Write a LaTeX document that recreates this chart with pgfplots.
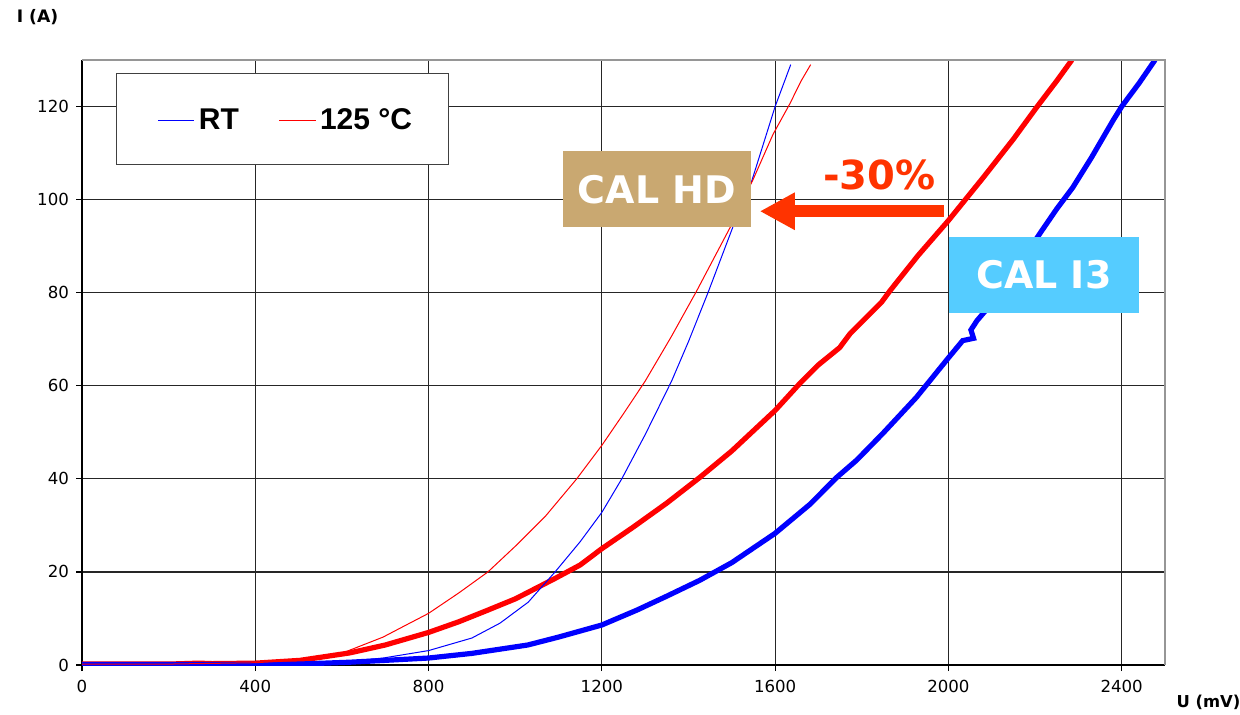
\documentclass[border=0pt]{standalone}
\usepackage{fontspec}
\setmainfont{DejaVu Sans}
\newfontfamily\arialfont{Liberation Sans}
\usepackage{pgfplots}
\pgfplotsset{compat=1.18}
\usetikzlibrary{arrows.meta}
\definecolor{calhd}{RGB}{201,168,113}
\definecolor{cali3}{RGB}{85,204,255}
\definecolor{arr}{RGB}{255,51,0}
\definecolor{framegray}{RGB}{150,150,150}

\begin{document}
\begin{tikzpicture}
\useasboundingbox (-41pt,-24.5pt) rectangle (579pt,332.5pt);
\begin{axis}[
  at={(0pt,0pt)}, anchor=south west,
  scale only axis, width=541.5pt, height=302.5pt,
  xmin=0, xmax=2500, ymin=0, ymax=130,
  xtick={0,400,...,2400}, ytick={0,20,...,120},
  axis lines*=left, axis line style={black, line width=0.6pt, -},
  grid=major, grid style={black!85, line width=0.6pt},
  tick align=outside, major tick length=3pt, tick style={black, line width=0.6pt},
  ticklabel style={font=\fontsize{8.3}{10}\selectfont},
  xticklabel style={yshift=-1pt},
  /pgf/number format/assume math mode=true,
  /pgf/number format/1000 sep={},
  legend columns=2,
  legend image post style={xscale=1.058},
  legend style={at={(0.1874,0.9000)}, anchor=center, draw=none, fill=none,
    font=\arialfont\bfseries\fontsize{15}{18}\selectfont,
    nodes={inner sep=0pt},
    /tikz/every odd column/.append style={column sep=2pt},
    /tikz/every even column/.append style={column sep=20pt}},
]
% thick: CAL I3, 125 C
\addplot[red, line width=2.6pt, forget plot] coordinates {
(0,0.2) (100,0.2) (200,0.2) (270,0.4) (300,0.3) (400,0.4) (503,1.0) (618,2.6) (700,4.3)
(800,7) (870,9.3) (937,11.8) (1000,14.2) (1092,18.6) (1150,21.5) (1200,25) (1272,29.6)
(1350,34.8) (1426,40.3) (1500,46) (1600,54.7) (1657,60.5) (1700,64.5) (1749,68.2)
(1773,71.2) (1846,78) (1865,80.4) (1930,88) (2000,95.5) (2080,104.7) (2150,113)
(2205,120) (2250,125.5) (2285,130)};
% thick: CAL I3, RT
\addplot[blue, line width=2.6pt, forget plot] coordinates {
(0,0.1) (400,0.1) (500,0.2) (618,0.6) (700,1.0) (800,1.5) (900,2.5) (1029,4.3) (1100,6)
(1200,8.6) (1281,11.8) (1350,14.8) (1426,18.2) (1500,22) (1600,28.3) (1680,34.5)
(1742,40.3) (1788,44) (1849,49.8) (1926,57.5) (2000,66) (2033,69.7) (2058,70.2)
(2052,72) (2066,74) (2089,76.5) (2150,84) (2211,92.7) (2250,98) (2287,102.6)
(2330,109) (2380,117) (2400,120) (2440,125) (2477,130)};
% thin: CAL HD, RT
\addplot[blue, line width=0.5pt] coordinates {
(0,0) (200,0) (400,0.1) (500,0.3) (580,0.5) (695,1.5) (800,3.1) (900,5.8) (965,9)
(1030,13.5) (1092,20) (1150,26.5) (1200,32.8) (1246,40) (1300,49.5) (1361,61)
(1400,69.5) (1445,80) (1502,94) (1546,104) (1600,120) (1636,129)};
\addlegendentry{RT}
% thin: CAL HD, 125 C
\addplot[red, line width=0.5pt] coordinates {
(0,0.2) (200,0.2) (400,0.5) (500,1.0) (580,1.8) (695,6) (734,7.9) (800,11.1) (870,15.5)
(937,20) (1000,25.5) (1070,32) (1142,40) (1200,47.2) (1250,54) (1300,61) (1360,70.5)
(1419,80.4) (1496,94) (1550,104.5) (1595,114) (1634,120.6) (1660,125.5) (1682,129)};
\addlegendentry{125 °C}

\draw[black!75, line width=0.5pt, fill=white] (rel axis cs:0.0323,0.8281) rectangle (rel axis cs:0.3380,0.9785);
\node[fill=calhd, minimum width=94pt, minimum height=37.9pt, inner sep=0pt, text=white,
  font=\bfseries\fontsize{19}{22}\selectfont] at (axis cs:1327,102.2) {CAL HD};
\node[fill=cali3, minimum width=94.9pt, minimum height=37.8pt, inner sep=0pt, text=white,
  font=\bfseries\fontsize{19}{22}\selectfont] at (axis cs:2220.4,83.83) {CAL I3\hspace{7pt}};
\draw[arr, line width=6pt, -{Triangle[length=17.5pt,width=17.5pt]}]
  (axis cs:1989,97.5) -- (axis cs:1564.6,97.5);
\node[text=arr, font=\bfseries\fontsize{20}{24}\selectfont] at (axis cs:1840.4,105.3) {-30\%};
\end{axis}
\draw[framegray, line width=0.6pt] (0pt,302.5pt) -- (541.5pt,302.5pt) -- (541.5pt,0pt);
\node[font=\bfseries\fontsize{8.6}{10}\selectfont] at (-22.25pt,323.75pt) {I (A)};
\node[font=\bfseries\fontsize{8.2}{10}\selectfont] at (563.25pt,-18.75pt) {U (mV)};
\end{tikzpicture}
\end{document}
